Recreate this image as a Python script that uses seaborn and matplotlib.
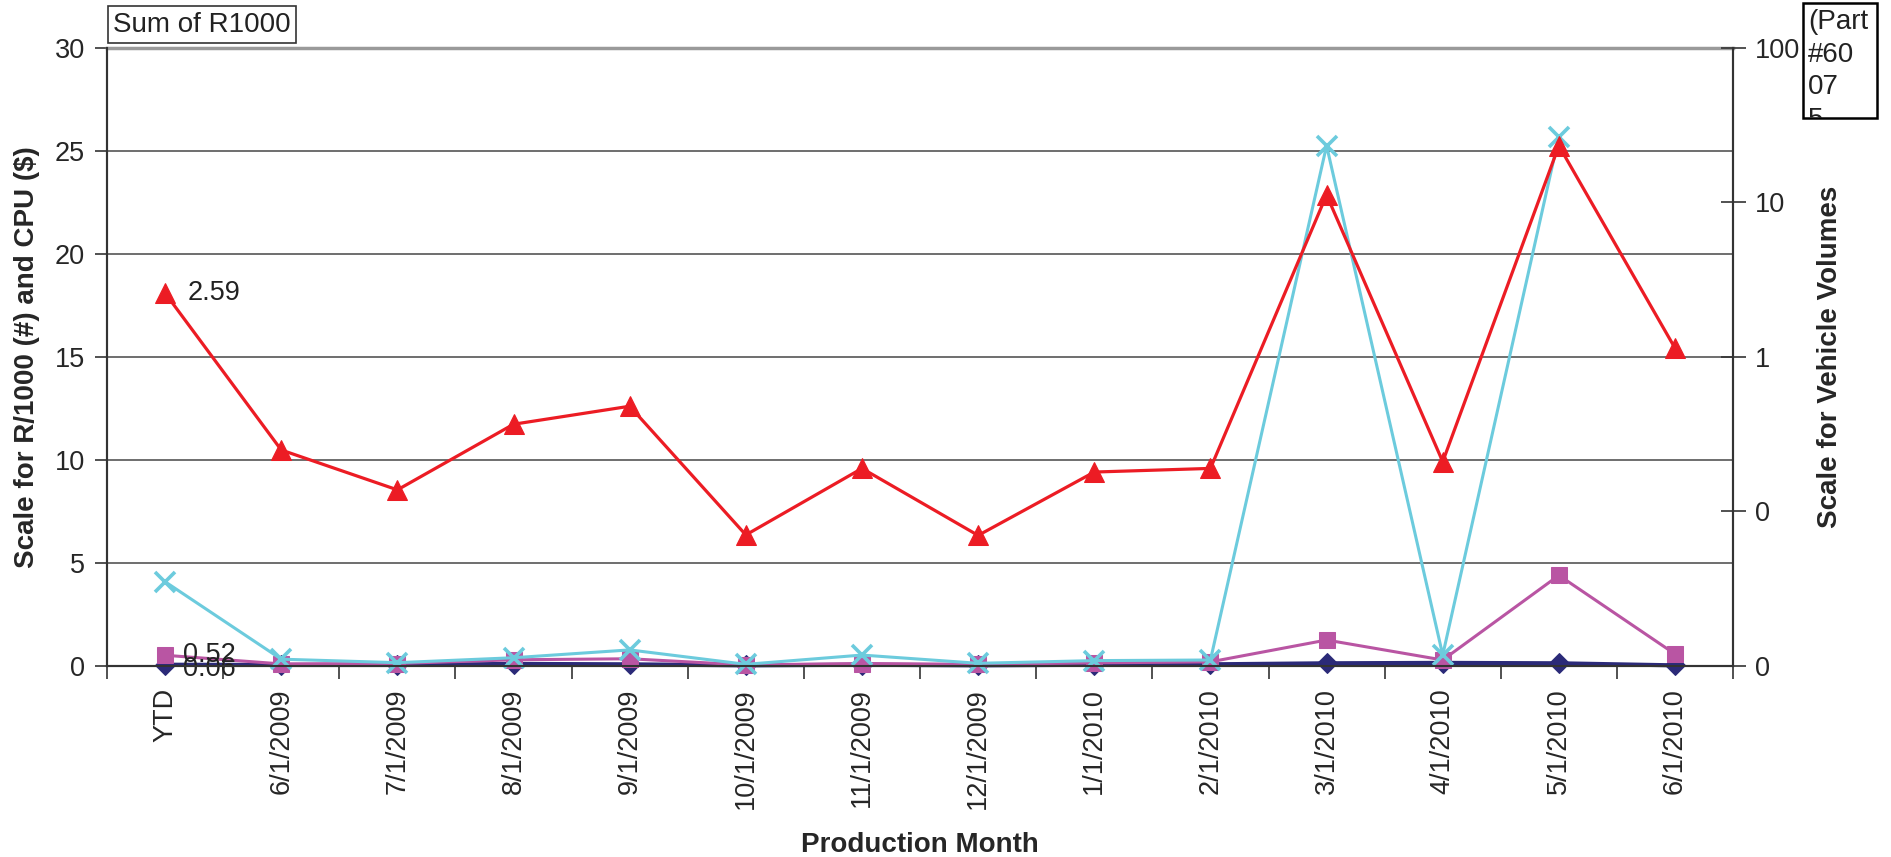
import numpy as np
import pandas as pd
import matplotlib.pyplot as plt
import seaborn as sns
from matplotlib.patches import Rectangle
from matplotlib.transforms import Bbox, TransformedBbox

sns.set_style('white')
plt.rcParams['font.family'] = ['Liberation Sans', 'DejaVu Sans']

months = ['YTD', '6/1/2009', '7/1/2009', '8/1/2009', '9/1/2009', '10/1/2009', '11/1/2009',
          '12/1/2009', '1/1/2010', '2/1/2010', '3/1/2010', '4/1/2010', '5/1/2010', '6/1/2010']
# left axis series
cpu = [0.06, 0.05, 0.05, 0.1, 0.08, 0.03, 0.06, 0.03, 0.06, 0.08, 0.13, 0.15, 0.13, 0.03]
r1000 = [0.52, 0.1, 0.12, 0.3, 0.35, 0.05, 0.12, 0.08, 0.15, 0.2, 1.26, 0.29, 4.4, 0.58]
r1000_part = [4.09, 0.33, 0.16, 0.4, 0.78, 0.08, 0.53, 0.13, 0.26, 0.29, 25.26, 0.53, 25.7, np.nan]
# right axis (log)
volume = [2.59, 0.25, 0.138, 0.367, 0.48, 0.0705, 0.19, 0.07, 0.18, 0.19, 11.2, 0.21, 23.3, 1.14]

left_ticks = [0, 5, 10, 15, 20, 25, 30]
right_ticks = [0.01, 0.1, 1, 10, 100]
right_labels = ['0', '0', '1', '10', '100']

df = pd.DataFrame(dict(month=months, cpu=cpu, r1000=r1000, r1000_part=r1000_part, volume=volume))
df['pos'] = np.arange(len(df))

fig = plt.figure(figsize=(18.91, 8.57), dpi=100)
ax = fig.add_axes([0.0566, 0.2229, 0.8599, 0.7211])
ax2 = ax.twinx()

sns.lineplot(x='pos', y='cpu', data=df, ax=ax, color='#2b2a78', lw=3, marker='D', markersize=10,
             markeredgecolor='#2b2a78', clip_on=False, zorder=3)
sns.lineplot(x='pos', y='r1000', data=df, ax=ax, color='#b955a3', lw=2.2, marker='s', markersize=12,
             markeredgecolor='#b955a3', clip_on=False, zorder=4)
sns.lineplot(x='pos', y='r1000_part', data=df, ax=ax, color='#6ccbdd', lw=2.2, marker='x', markersize=14,
             markeredgewidth=2.6, markeredgecolor='#6ccbdd', clip_on=False, zorder=5)
sns.lineplot(x='pos', y='volume', data=df, ax=ax2, color='#ec1c24', lw=2.3, marker='^', markersize=14,
             markeredgecolor='#ec1c24', clip_on=False, zorder=6)

ax.set_xlim(-0.5, len(months) - 0.5)
ax.set_ylim(0, 30)
ax.set_yticks(left_ticks)
ax.set_xticks(df.pos)
ax.set_xticklabels(months, rotation=90, fontsize=19.5)
ax.set_xticks(np.arange(len(months) + 1) - 0.5, minor=True)
ax.tick_params(axis='x', which='major', length=0, pad=16)
ax.tick_params(axis='x', which='minor', bottom=True, length=9, width=1.2, color='#333333', direction='out')
ax.tick_params(axis='y', left=True, length=9, width=1.2, color='#333333', direction='out', labelsize=19.5, pad=7)
ax.yaxis.grid(True, color='#555555', lw=1.2)
ax.set_axisbelow(True)

ax2.set_yscale('log')
ax2.set_ylim(0.01, 100)
ax2.set_yticks(right_ticks)
ax2.set_yticklabels(right_labels)
ax2.yaxis.set_minor_locator(plt.NullLocator())
ax2.tick_params(axis='y', right=True, length=18, width=1.2, color='#333333', direction='inout', labelsize=19.5, pad=7)
ax2.grid(False)

for a in (ax, ax2):
    for s in a.spines.values():
        s.set_color('#333333')
        s.set_linewidth(1.5)
ax.spines['top'].set_color('#9a9a9a')
ax.spines['top'].set_linewidth(2.5)
ax2.spines['top'].set_visible(False)

ax.set_xlabel('Production Month', fontsize=20, fontweight='bold')
ax.xaxis.set_label_coords(0.5, -0.268)
ax.set_ylabel('Scale for R/1000 (#) and CPU ($)', fontsize=20, fontweight='bold')
ax.yaxis.set_label_coords(-0.041, 0.5)
ax2.set_ylabel('Scale for Vehicle Volumes', fontsize=20, fontweight='bold')
ax2.yaxis.set_label_coords(1.0515, 0.5)

# data labels at YTD
ax2.annotate('2.59', (df.pos[0], volume[0]), xytext=(16, 0), textcoords='offset points',
             fontsize=19.5, va='center', ha='left', color='#222222')
ax.annotate('0.52', (df.pos[0], r1000[0]), xytext=(13, 0), textcoords='offset points',
            fontsize=19.5, va='center', ha='left', color='#222222', zorder=10)
ax.annotate('0.06', (df.pos[0], cpu[0]), xytext=(13, -3), textcoords='offset points',
            fontsize=19.5, va='center', ha='left', color='#222222', zorder=10)

# header boxes
fig.text(0.0598, 0.971, 'Sum of R1000', fontsize=20, va='center', ha='left', color='#222222',
         bbox=dict(boxstyle='square,pad=0.2', fc='white', ec='#333333', lw=1.2))

box = Rectangle((1803 / 1891, 1 - 118 / 857), 74 / 1891, 115 / 857, transform=fig.transFigure,
                fc='white', ec='black', lw=1.8, zorder=1)
fig.patches.append(box)
t = fig.text(1808 / 1891, 1 - 9 / 857, '(Part\n#60\n07\n5', fontsize=20, va='top', ha='left',
             color='#222222', linespacing=1.33, zorder=2)
t.set_clip_box(TransformedBbox(Bbox([[1803 / 1891, 1 - 118 / 857], [1877 / 1891, 1 - 3 / 857]]),
                               fig.transFigure))

fig.savefig('out.png', dpi=100)
